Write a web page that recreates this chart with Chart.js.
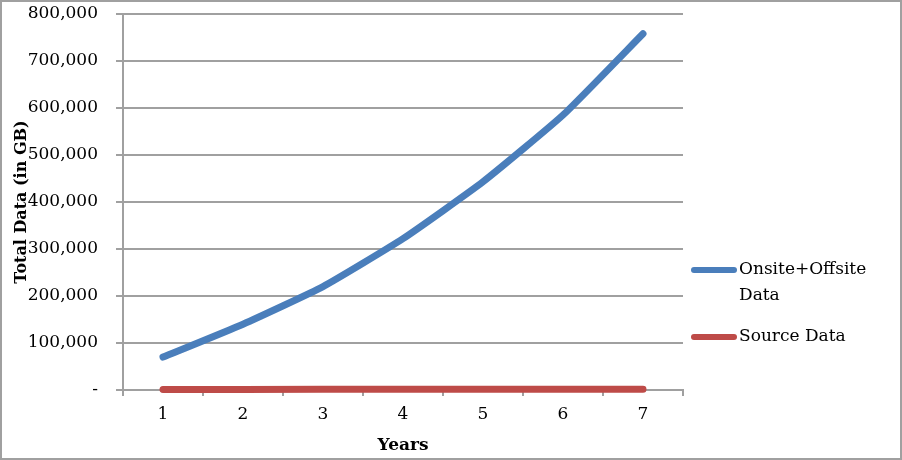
<!DOCTYPE html>
<html>
<head>
<meta charset="utf-8">
<script src="https://cdn.jsdelivr.net/npm/chart.js@4.4.0/dist/chart.umd.min.js"></script>
<style>
  html, body { margin: 0; padding: 0; background: #fff; }
  #wrap { width: 902px; height: 460px; position: relative; }
</style>
</head>
<body>
<div id="wrap"><canvas id="chart" width="902" height="460"></canvas></div>
<script>
// Years on the x axis
const years = ['1', '2', '3', '4', '5', '6', '7'];

// Series values (GB)
const onsiteOffsite = [70000, 140000, 220000, 322000, 443000, 585000, 758000];
const sourceData = [1200, 1300, 1400, 1500, 1600, 1700, 1800];

const seriesNames = ['Onsite+Offsite Data', 'Source Data'];
const seriesColors = ['#4a7ebb', '#be4b48'];

const yTicks = [0, 100000, 200000, 300000, 400000, 500000, 600000, 700000, 800000];

const serif = "'DejaVu Serif', 'Liberation Serif', serif";
const gridGrey = '#a0a0a0';

// white page + grey frame round the whole chart
const frame = {
    id: 'frame',
    beforeDraw(chart) {
        const { ctx, width, height } = chart;
        ctx.save();
        ctx.fillStyle = '#fff';
        ctx.fillRect(0, 0, width, height);
        ctx.restore();
    },
    afterDraw(chart) {
        const { ctx, width, height } = chart;
        ctx.save();
        ctx.strokeStyle = gridGrey;
        ctx.lineWidth = 2;
        ctx.strokeRect(1, 1, width - 2, height - 2);
        ctx.restore();
    }
};

// legend on the right, with wrapped labels like the original
const sideLegend = {
    id: 'sideLegend',
    afterDraw(chart) {
        const { ctx } = chart;
        const x0 = 691, lineLen = 46, textX = 739, maxW = 145, lh = 26;
        let y = 270;
        ctx.save();
        ctx.font = '17px ' + serif;
        ctx.textBaseline = 'middle';
        chart.data.datasets.forEach(ds => {
            // word wrap
            const words = ds.label.split(' ');
            const lines = [];
            let cur = '';
            words.forEach(w => {
                const t = cur ? cur + ' ' + w : w;
                if (cur && ctx.measureText(t).width > maxW) {
                    lines.push(cur);
                    cur = w;
                } else {
                    cur = t;
                }
            });
            lines.push(cur);

            ctx.strokeStyle = ds.borderColor;
            ctx.lineWidth = 6;
            ctx.lineCap = 'round';
            ctx.beginPath();
            ctx.moveTo(x0 + 3, y);
            ctx.lineTo(x0 + lineLen - 3, y);
            ctx.stroke();

            ctx.fillStyle = '#000';
            lines.forEach((ln, i) => ctx.fillText(ln, textX, y + i * lh));
            y += (lines.length - 1) * lh + 41;
        });
        ctx.restore();
    }
};

new Chart(document.getElementById('chart'), {
    type: 'line',
    data: {
        labels: years,
        datasets: [
            {
                label: seriesNames[0],
                data: onsiteOffsite,
                borderColor: seriesColors[0],
                backgroundColor: seriesColors[0],
                borderWidth: 7,
                borderCapStyle: 'round',
                borderJoinStyle: 'round',
                pointRadius: 0,
                tension: 0.15
            },
            {
                label: seriesNames[1],
                data: sourceData,
                borderColor: seriesColors[1],
                backgroundColor: seriesColors[1],
                borderWidth: 7,
                borderCapStyle: 'round',
                borderJoinStyle: 'round',
                pointRadius: 0,
                tension: 0
            }
        ]
    },
    options: {
        responsive: false,
        animation: false,
        clip: false,
        layout: { padding: { left: 8, right: 219, top: 14, bottom: 0 } },
        plugins: {
            legend: { display: false },
            tooltip: { enabled: false }
        },
        scales: {
            x: {
                offset: true,
                grid: {
                    offset: true,
                    drawOnChartArea: false,
                    drawTicks: true,
                    tickLength: 6,
                    color: gridGrey,
                    lineWidth: 2
                },
                border: { color: gridGrey, width: 2 },
                ticks: {
                    color: '#000',
                    font: { family: serif, size: 17 },
                    padding: 8
                },
                title: {
                    display: true,
                    text: 'Years',
                    color: '#000',
                    font: { family: serif, size: 17, weight: 'bold' },
                    padding: { top: 4 }
                },
                afterFit(scale) {
                    scale.height = 70;
                    scale.paddingLeft = 0;
                    scale.paddingRight = 0;
                }
            },
            y: {
                min: 0,
                max: 800000,
                afterBuildTicks(scale) {
                    scale.ticks = yTicks.map(v => ({ value: v }));
                },
                grid: {
                    color: gridGrey,
                    lineWidth: 2,
                    tickLength: 7
                },
                border: { color: gridGrey, width: 2 },
                ticks: {
                    color: '#000',
                    font: { family: serif, size: 17 },
                    padding: 18,
                    callback: v => v === 0 ? '-' : v.toLocaleString('en-US')
                },
                title: {
                    display: true,
                    text: 'Total Data (in GB)',
                    color: '#000',
                    font: { family: serif, size: 16, weight: 'bold' },
                    padding: { bottom: 0 }
                },
                afterFit(scale) {
                    scale.width = 115;
                    scale.paddingTop = 0;
                    scale.paddingBottom = 0;
                }
            }
        }
    },
    plugins: [frame, sideLegend]
});
</script>
</body>
</html>
